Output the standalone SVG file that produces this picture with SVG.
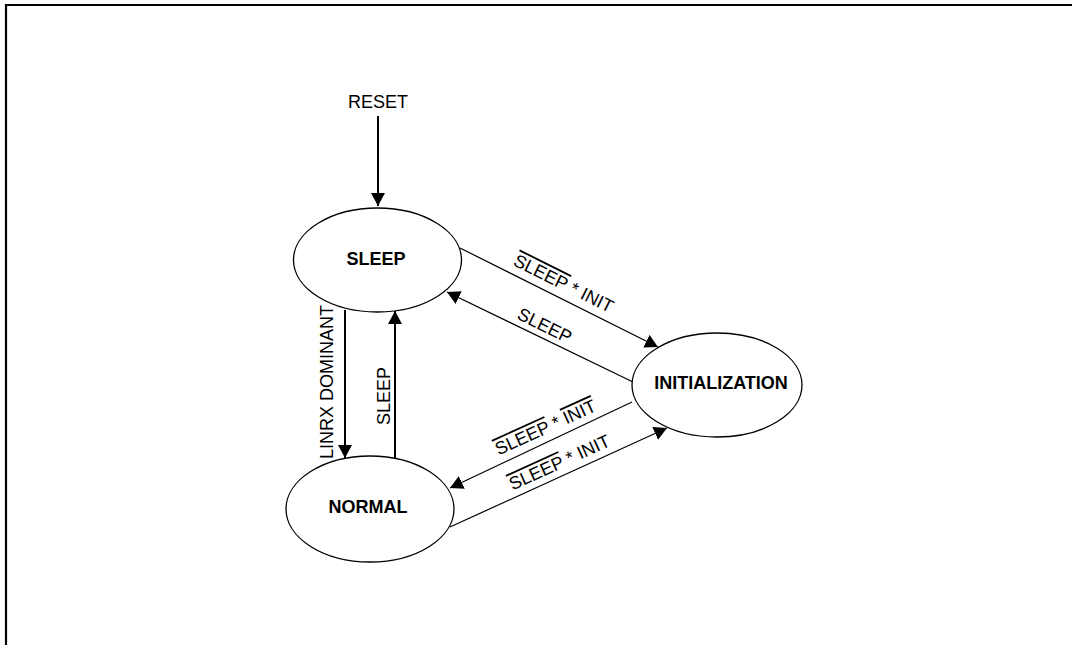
<svg xmlns="http://www.w3.org/2000/svg" width="1072" height="645" viewBox="0 0 1072 645">
<style>
.node ellipse{fill:#fff;stroke:#000;stroke-width:1.3}
.node text{font-family:"Liberation Sans",Arial,sans-serif;font-weight:bold;font-size:18px;text-anchor:middle;fill:#000}
.lbl{font-family:"Liberation Sans",Arial,sans-serif;font-size:18px;text-anchor:middle;fill:#000}
.ov{text-decoration:overline}
.thick{stroke:#000;stroke-width:2;fill:none}
.thin{stroke:#000;stroke-width:1.2;fill:none}
</style>
<defs>
<marker id="ah" markerUnits="userSpaceOnUse" markerWidth="14" markerHeight="15" refX="13" refY="7" orient="auto">
<path d="M0,0 L13,7 L0,14 Z" fill="#000"/>
</marker>
</defs>
<rect x="0" y="0" width="1072" height="645" fill="#fff"/>
<path d="M6,645 V5 H1072" fill="none" stroke="#000" stroke-width="2.2"/>
<g id="connectors">
<line class="thick" x1="378" y1="116" x2="378" y2="206" marker-end="url(#ah)"/>
<line class="thick" x1="345" y1="310" x2="345" y2="458" marker-end="url(#ah)"/>
<line class="thick" x1="395" y1="459" x2="395" y2="311" marker-end="url(#ah)"/>
<line class="thin" x1="460" y1="248" x2="658" y2="347" marker-end="url(#ah)"/>
<line class="thin" x1="633" y1="382" x2="447" y2="292" marker-end="url(#ah)"/>
<line class="thin" x1="632" y1="402" x2="450" y2="488" marker-end="url(#ah)"/>
<line class="thin" x1="450" y1="527" x2="667" y2="428" marker-end="url(#ah)"/>
<text class="lbl" x="378" y="108">RESET</text>
<text class="lbl" transform="translate(333,382) rotate(-90)">LINRX DOMINANT</text>
<text class="lbl" transform="translate(390,396) rotate(-90)">SLEEP</text>
<text class="lbl" transform="translate(561,289) rotate(26.5)"><tspan class="ov">SLEEP</tspan> * INIT</text>
<text class="lbl" transform="translate(542,331) rotate(26)">SLEEP</text>
<text class="lbl" transform="translate(548,433) rotate(-24.5)"><tspan class="ov">SLEEP</tspan> * <tspan class="ov">INIT</tspan></text>
<text class="lbl" transform="translate(562,468) rotate(-24.5)"><tspan class="ov">SLEEP</tspan> * INIT</text>
</g>
<g id="node-sleep" class="node">
<ellipse cx="377.5" cy="260" rx="84" ry="52"/>
<text x="376" y="265">SLEEP</text>
</g>
<g id="node-normal" class="node">
<ellipse cx="370" cy="509" rx="84" ry="53"/>
<text x="368" y="513">NORMAL</text>
</g>
<g id="node-initialization" class="node">
<ellipse cx="717" cy="385" rx="85" ry="52"/>
<text x="721" y="389">INITIALIZATION</text>
</g>
</svg>
